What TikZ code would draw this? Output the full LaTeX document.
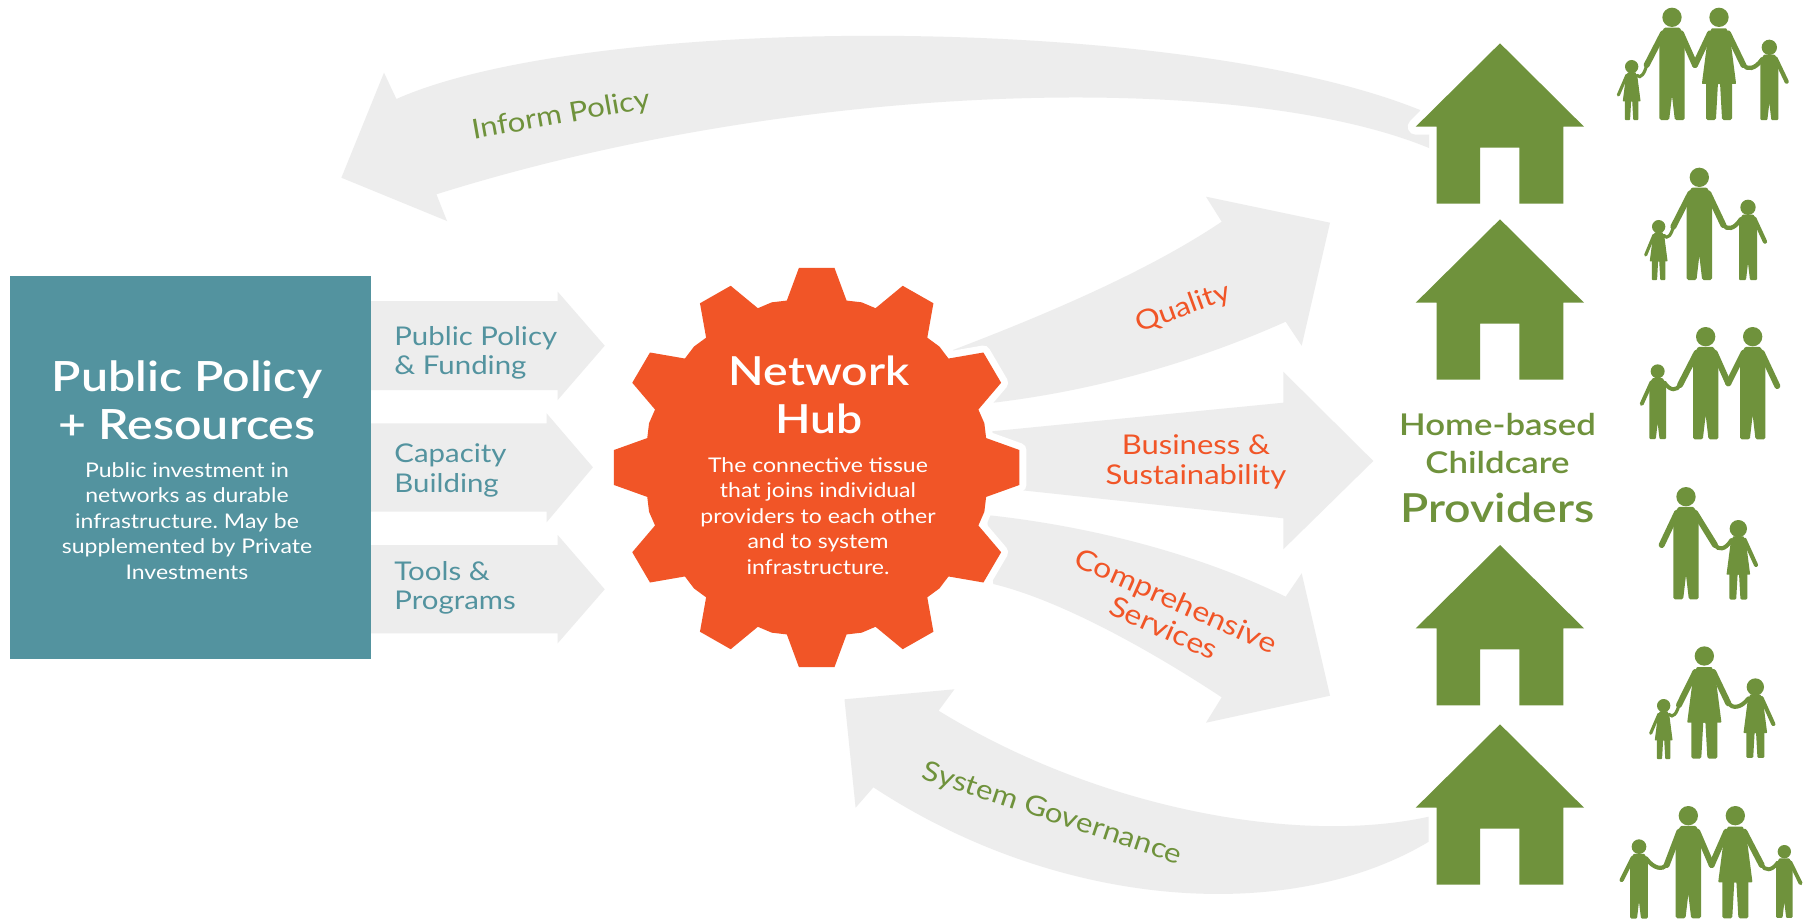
\documentclass[tikz,border=0pt]{standalone}
\usepackage{fontspec}
\setmainfont[FakeStretch=1.14]{Lato}
\newfontfamily\semifont[FakeStretch=1.16]{Lato Semibold}
\frenchspacing
\definecolor{greyarrow}{HTML}{EDEDED}
\definecolor{tealbox}{HTML}{53939F}
\definecolor{orangehub}{HTML}{F15527}
\definecolor{greenhome}{HTML}{6F923C}
\newcommand{\fs}[2]{\fontsize{#1}{#2}\selectfont}
\tikzset{
  greyfill/.style={fill=greyarrow,draw=none},
  figc/.style={fill=greenhome,draw=greenhome},
  tealtext/.style={text=tealbox,align=left,inner sep=0pt,font=\fs{12.9}{14.6}},
  orangetext/.style={text=orangehub,align=center,font=\fs{13.6}{15}},
  greentext/.style={text=greenhome,align=center,font=\fs{13.7}{15}},
  whitetitle/.style={text=white,align=center,font=\semifont\fs{20}{24}},
  whitebody/.style={text=white,align=center,font=\fs{10.1}{12.8}},
}
% person shapes, in units of 1/3 px relative to head centre
\newcommand{\figman}[4]{%
  \fill[greenhome] (#1,#2) circle[radius=#4];
  \begin{scope}[shift={(#1,#2)},scale=#3]
    \path[figc,line join=round,line width=#3*1.67pt]
      (-20,36) -- (20,36) -- (33,58) -- (33,303) -- (13,303) -- (0,192) -- (-13,303) -- (-33,303) -- (-33,58) -- cycle;
  \end{scope}}
\newcommand{\figwoman}[4]{%
  \fill[greenhome] (#1,#2) circle[radius=#4];
  \begin{scope}[shift={(#1,#2)},scale=#3]
    \path[figc,line join=round,line width=#3*1.0pt]
      (-20,36) -- (20,36) -- (30,58) -- (48,197) -- (-48,197) -- (-30,58) -- cycle;
    \path[figc,line join=round,line width=#3*1.67pt]
      (-34,190) -- (-34,303) -- (-14,303) -- (-8,195) -- (8,195) -- (14,303) -- (34,303) -- (34,190) -- cycle;
  \end{scope}}
% straight arm: head x,y, scale, hand x,y
\newcommand{\figarm}[5]{%
  \pgfmathsetmacro{\sgn}{(#4>#1)?1:-1}
  \draw[greenhome,line cap=round,line width=#3*3pt] ({#1+\sgn*#3*27},{#2+#3*48}) -- (#4,#5);}
% arm curving up to a held hand
\newcommand{\figholdarm}[5]{%
  \pgfmathsetmacro{\sgn}{(#4>#1)?1:-1}
  \pgfmathsetmacro{\sx}{#1+\sgn*#3*30}
  \pgfmathsetmacro{\sy}{#2+#3*50}
  \draw[greenhome,line cap=round,line width=#3*3pt]
    (\sx,\sy) .. controls ({\sx+0.4*(#4-\sx)},{\sy+0.4*(#5-\sy)+25}) and ({\sx+0.8*(#4-\sx)},{\sy+0.8*(#5-\sy)+18}) .. (#4,#5);}
\newcommand{\houseat}[1]{%
  \fill[greenhome,even odd rule] (1500,#1) -- (1584,#1+83.4) -- (1563.3,#1+83.4) -- (1563.3,#1+160.4) -- (1519.3,#1+160.4) -- (1519.3,#1+104.4) -- (1480,#1+104.4) -- (1480,#1+160.4) -- (1436.7,#1+160.4) -- (1436.7,#1+83.4) -- (1415.7,#1+83.4) -- cycle;}
\begin{document}
\begin{tikzpicture}[x=0.5pt,y=-0.5pt]
\useasboundingbox[fill=white] (0,0) rectangle (1812,921);

% grey arrows, left
\fill[greyfill] (365,301) -- (557.7,301) -- (557.7,291.7) -- (604.7,345.7) -- (557.7,400) -- (557.7,390) -- (365,390) -- cycle;
\fill[greyfill] (365,423.3) -- (546.6,423.3) -- (546.6,413.3) -- (592.9,467.3) -- (546.6,522.3) -- (546.6,511.7) -- (365,511.7) -- cycle;
\fill[greyfill] (365,545) -- (557.7,545) -- (557.7,535) -- (604.7,589.3) -- (557.7,643.3) -- (557.7,633.3) -- (365,633.3) -- cycle;

% Inform Policy arrow
\fill[greyfill] (1429,148) -- (1429,125) -- (1420,110)
  .. controls (1180,13) and (590,13) .. (396.4,99)
  -- (384,72.7) -- (341.4,177.7) -- (447,221) -- (436.4,194.3)
  .. controls (800,80) and (1240,70) .. (1429,148) -- cycle;

% Quality arrow
\fill[greyfill] (953,350) .. controls (1050,313) and (1150,270) .. (1221.7,221.7)
  -- (1206,196.7) -- (1330,222.7) -- (1301.7,345.7) -- (1285.7,321.7)
  .. controls (1200,360) and (1100,390) .. (993.3,402.7) -- cycle;
% Business arrow
\fill[greyfill] (985,432) -- (1283.3,402.7) -- (1283.3,371.7) -- (1373.3,461) -- (1283.3,549.3) -- (1283.3,518.3) -- (1010,489) -- cycle;
% Comprehensive arrow
\fill[greyfill] (986.7,515) .. controls (1080,525) and (1190,550) .. (1285.7,596.7)
  -- (1301.7,573.3) -- (1330,695.7) -- (1206,722.7) -- (1221.7,697.3)
  .. controls (1150,650) and (1060,600) .. (993.3,584) -- cycle;
% System Governance arrow
\fill[greyfill] (1428.7,816.7) .. controls (1300,845) and (1100,810) .. (938.6,710.7)
  -- (954.4,689.3) -- (844.5,699.3) -- (855.6,807.7) -- (873.4,787.3)
  .. controls (1060,910) and (1290,925) .. (1428.7,841.7) -- cycle;

% teal box
\fill[tealbox] (10,275.7) rectangle (371,659.3);

% gear
\begin{scope}[shift={(816.7,467.5)},xscale=1.015]
  \path[fill=orangehub,draw=white,line width=7pt,line join=round] (-10:169.5)
    \foreach \a in {0,30,...,330}{ -- (\a-10:169.5) -- (\a-5:200.5) -- (\a+5:200.5) -- (\a+10:169.5) -- (\a+15:171) } -- cycle;
  \path[fill=orangehub] (-10:169.5)
    \foreach \a in {0,30,...,330}{ -- (\a-10:169.5) -- (\a-5:200.5) -- (\a+5:200.5) -- (\a+10:169.5) -- (\a+15:171) } -- cycle;
\end{scope}

% houses
\path[draw=white,line width=8pt,line join=round] (1500,43.3) -- (1584,126.7) -- (1415.7,126.7) -- cycle;
\houseat{43.3}
\houseat{219.3}
\houseat{545}
\houseat{724.3}

% family 1
\begin{scope}[shift={(1380,0)},scale=0.33333]
  \figwoman{755}{200}{0.52}{20}
  \figarm{755}{200}{0.52}{715}{285}
  \figholdarm{755}{200}{0.52}{800}{195}
  \figman{876}{52}{1}{29}
  \figarm{876}{52}{1}{800}{195}
  \figarm{876}{52}{1}{945}{195}
  \figwoman{1017}{52}{1}{29}
  \figarm{1017}{52}{1}{945}{195}
  \figarm{1017}{52}{1}{1090}{195}
  \figman{1168}{142}{0.71}{23}
  \figholdarm{1168}{142}{0.71}{1090}{195}
  \figarm{1168}{142}{0.71}{1220}{245}
% family 2
  \figwoman{836}{680}{0.52}{20}
  \figarm{836}{680}{0.52}{797}{765}
  \figholdarm{836}{680}{0.52}{880}{680}
  \figman{958}{532}{1}{29}
  \figarm{958}{532}{1}{880}{680}
  \figarm{958}{532}{1}{1030}{675}
  \figman{1104}{622}{0.71}{23}
  \figholdarm{1104}{622}{0.71}{1030}{675}
  \figarm{1104}{622}{0.71}{1155}{725}
\end{scope}
\begin{scope}[shift={(1380,300)},scale=0.33333]
% family 3
  \figman{833}{214}{0.66}{21}
  \figarm{833}{214}{0.66}{785}{312}
  \figholdarm{833}{214}{0.66}{900}{255}
  \figman{977}{110}{1}{29}
  \figarm{977}{110}{1}{900}{255}
  \figarm{977}{110}{1}{1045}{250}
  \figman{1118}{110}{1}{29}
  \figarm{1118}{110}{1}{1045}{250}
  \figarm{1118}{110}{1}{1192}{258}
% family 4
  \figman{918}{590}{1}{29}
  \figarm{918}{590}{1}{845}{735}
  \figarm{918}{590}{1}{1005}{735}
  \figwoman{1075}{686}{0.69}{26}
  \figholdarm{1075}{686}{0.69}{1005}{735}
  \figarm{1075}{686}{0.69}{1128}{795}
\end{scope}
\begin{scope}[shift={(1380,620)},scale=0.33333]
% family 5
  \figwoman{851}{257}{0.52}{20}
  \figarm{851}{257}{0.52}{812}{340}
  \figholdarm{851}{257}{0.52}{897}{255}
  \figwoman{973}{108}{1}{29}
  \figarm{973}{108}{1}{897}{255}
  \figarm{973}{108}{1}{1045}{250}
  \figwoman{1126}{201}{0.69}{26}
  \figholdarm{1126}{201}{0.69}{1045}{250}
  \figarm{1126}{201}{0.69}{1180}{312}
% family 6
  \figman{777}{680}{0.7}{22}
  \figarm{777}{680}{0.7}{725}{780}
  \figholdarm{777}{680}{0.7}{860}{735}
  \figman{925}{587}{1}{29}
  \figarm{925}{587}{1}{860}{735}
  \figarm{925}{587}{1}{995}{735}
  \figwoman{1066}{587}{1}{29}
  \figarm{1066}{587}{1}{995}{735}
  \figarm{1066}{587}{1}{1145}{735}
  \figman{1213}{695}{0.645}{20}
  \figholdarm{1213}{695}{0.645}{1145}{735}
  \figarm{1213}{695}{0.645}{1262}{790}
\end{scope}

% text
\node[whitetitle,font=\semifont\fs{20.8}{24}] (boxtitle) at (187,400.5) {Public Policy\\+ Resources};
\node[whitebody] (boxbody) at (187,521) {Public investment in\\networks as durable\\infrastructure. May be\\supplemented by Private\\Investments};
\node[tealtext,anchor=west] (l1) at (394,353) {Public Policy\\\& Funding};
\node[tealtext,anchor=west] (l2) at (394,470.5) {Capacity\\Building};
\node[tealtext,anchor=west] (l3) at (394,588) {Tools \&\\Programs};
\node[whitetitle] (hubtitle) at (819,394.5) {Network\\Hub};
\node[whitebody] (hubbody) at (818,516) {The connective tissue\\that joins individual\\providers to each other\\and to system\\infrastructure.};
\node[orangetext,rotate=20] (q) at (1183,308.3) {Quality};
\node[orangetext] (b) at (1196,461.5) {Business \&\\Sustainability};
\node[orangetext,rotate=-24,font=\fs{14}{15}] (c) at (1170,614) {Comprehensive\\Services};
\node[greentext,rotate=10] (ip) at (561,116) {Inform Policy};
\node[greentext,rotate=-18.5] (sg) at (1052,814) {System Governance};
\node[text=greenhome,align=center,font=\semifont\fs{15}{19}] (hb) at (1497.5,443.5) {Home-based\\Childcare};
\node[text=greenhome,font=\semifont\fs{20}{24}] (pr) at (1497.5,508) {Providers};
\end{tikzpicture}
\end{document}
